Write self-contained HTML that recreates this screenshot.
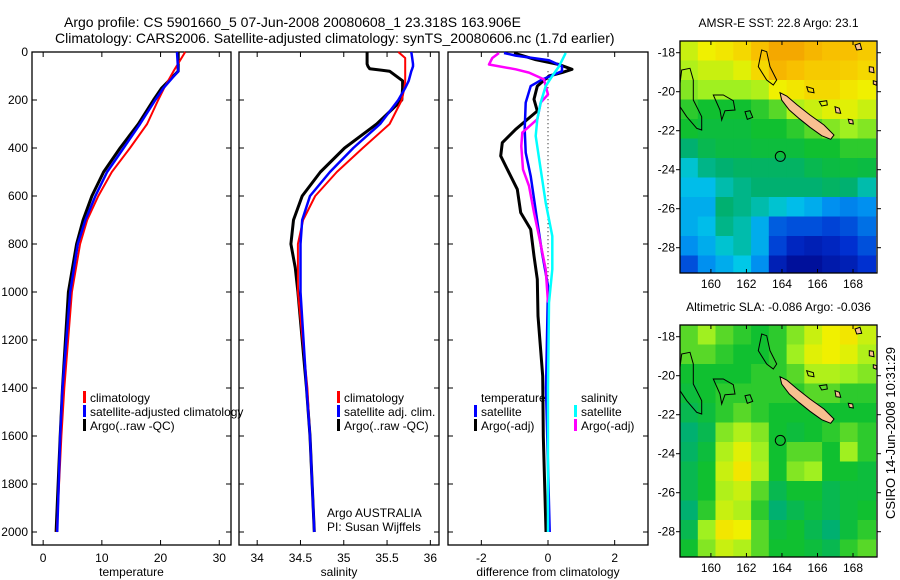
<!DOCTYPE html>
<html><head><meta charset="utf-8"><style>
body{margin:0;background:#fff;}
svg{display:block;font-family:"Liberation Sans",sans-serif;}
</style></head><body>
<svg id="fig" width="900" height="580" viewBox="0 0 900 580" xmlns="http://www.w3.org/2000/svg">
<rect width="900" height="580" fill="#fff"/>
<text x="64" y="27" font-size="14">Argo profile: CS 5901660_5 07-Jun-2008 20080608_1 23.318S 163.906E</text>
<text x="55" y="43" font-size="14">Climatology: CARS2006. Satellite-adjusted climatology: synTS_20080606.nc (1.7d earlier)</text>
<g id="p1"></g>
<g id="p2"></g>
<g id="p3"></g>
<g id="m1"></g>
<g id="m2"></g>
<text transform="translate(895,433) rotate(-90)" font-size="13" text-anchor="middle">CSIRO 14-Jun-2008 10:31:29</text>
</svg>
<script>
// ---- data ----
const tDepth=[0,80,150,200,300,400,500,600,700,800,1000,1400,1600,2000];
const tClim=[24.2,22.2,20.6,19.6,17.7,14.8,11.7,9.4,7.5,6.3,4.9,3.6,3.1,2.3];
const tSat=[22.8,23.0,20.5,19.1,16.5,13.7,10.9,8.9,7.2,5.9,4.6,3.3,2.9,2.4];
const tArgo=[23.0,23.0,20.2,18.8,16.2,13.1,10.3,8.3,6.8,5.7,4.3,3.3,2.9,2.2];
const sDepth=[0,25,50,60,70,80,120,150,200,300,400,500,600,700,800,900,1000,1400,1600,2000];
const sClim=[35.63,35.71,35.71,35.71,35.71,35.71,35.71,35.70,35.67,35.53,35.22,34.92,34.67,34.53,34.47,34.47,34.47,34.58,34.61,34.66];
const sSat=[35.78,35.79,35.80,35.80,35.79,35.78,35.75,35.71,35.63,35.42,35.11,34.84,34.61,34.52,34.50,34.50,34.50,34.57,34.61,34.66];
const sArgo=[35.27,35.27,35.27,35.28,35.30,35.53,35.68,35.68,35.67,35.38,35.01,34.73,34.52,34.42,34.39,34.44,34.47,34.57,34.61,34.66];
const dTSatDepth=[4,15,34,59,80,115,142,211,322,419,517,697,836,975,1400,2000];
const dTSat=[-1.32,-0.97,0.03,0.42,0.42,-0.18,-0.52,-0.67,-0.70,-0.67,-0.52,-0.33,-0.18,0,-0.06,0.05];
const dTArgoDepth=[4,32,52,72,86,100,142,197,246,322,378,433,503,572,669,739,850,947,1100,1350,1600,2000];
const dTArgo=[-1.02,-0.37,0.33,0.72,0.42,0.03,-0.32,-0.42,-0.32,-0.97,-1.37,-1.42,-1.17,-0.92,-0.82,-0.52,-0.42,-0.32,-0.30,-0.16,-0.14,-0.06];
const dSArgoDepth=[4,25,52,72,86,114,142,177,211,280,336,392,489,558,669,767,905,1044];
const dSArgo=[-1.47,-1.67,-1.77,-0.97,-0.57,-0.12,-0.07,0,-0.22,-0.32,-0.77,-0.80,-0.75,-0.57,-0.42,-0.27,-0.07,0];
const dSSatDepth=[4,60,100,142,211,280,350,489,628,767,905,1044,1400,2000];
const dSSat=[0.53,0.33,0.13,-0.07,-0.22,-0.32,-0.37,-0.22,-0.07,0.13,0.13,0.03,0.0,0.0];
const depthTicks=[0,200,400,600,800,1000,1200,1400,1600,1800,2000];
const tTicks=[0,10,20,30];
const sTicks=[34,34.5,35,35.5,36];
const dTicks=[-2,0,2];
const lonTicks=[160,162,164,166,168];
const latTicks=[-18,-20,-22,-24,-26,-28];
const sstGrid=[
[.75,.8,.82,.85,.9,.95,.95,.92,.9,.9,.88],
[.72,.75,.75,.78,.85,.92,.9,.88,.88,.87,.85],
[.68,.7,.7,.7,.72,.8,.82,.85,.85,.82,.8],
[.62,.6,.6,.6,.62,.65,.72,.75,.78,.78,.75],
[.6,.58,.58,.58,.6,.6,.62,.65,.68,.7,.68],
[.5,.55,.57,.57,.58,.58,.58,.6,.6,.62,.62],
[.42,.48,.5,.52,.52,.52,.52,.55,.57,.58,.57],
[.38,.38,.45,.48,.5,.5,.5,.5,.52,.5,.45],
[.35,.35,.5,.48,.45,.42,.38,.35,.3,.28,.3],
[.35,.38,.48,.45,.35,.22,.2,.2,.18,.2,.25],
[.3,.35,.42,.45,.35,.18,.12,.1,.12,.15,.2],
[.2,.3,.35,.4,.3,.1,.05,.05,.08,.1,.15]];
const slaGrid=[
[.65,.7,.65,.62,.6,.62,.68,.75,.8,.82,.75],
[.65,.65,.62,.6,.6,.62,.7,.78,.8,.78,.72],
[.6,.6,.6,.6,.62,.62,.65,.72,.72,.7,.68],
[.58,.6,.62,.62,.62,.62,.62,.65,.65,.62,.62],
[.55,.58,.62,.65,.62,.6,.6,.6,.6,.6,.6],
[.5,.55,.68,.72,.68,.6,.58,.6,.62,.65,.62],
[.52,.58,.72,.78,.7,.6,.65,.65,.6,.7,.62],
[.55,.6,.75,.82,.72,.6,.68,.7,.6,.6,.58],
[.55,.6,.72,.75,.65,.55,.6,.6,.55,.58,.58],
[.5,.62,.75,.72,.62,.5,.55,.58,.55,.58,.6],
[.55,.7,.82,.8,.65,.58,.6,.55,.5,.58,.62],
[.6,.68,.75,.72,.65,.6,.6,.58,.55,.62,.65]];

const NS='http://www.w3.org/2000/svg';
function mk(parent,tag,attrs,txt){const e=document.createElementNS(NS,tag);for(const k in attrs)e.setAttribute(k,attrs[k]);if(txt!==undefined)e.textContent=txt;parent.appendChild(e);return e;}
const Y0=52,Y1=545,yD=d=>52+d*0.24;

function panel(g,x0,x1,xmin,xmax,xt,xtl,title,showY){
  const sx=v=>x0+(v-xmin)/(xmax-xmin)*(x1-x0);
  const r=mk(g,'rect',{x:x0,y:Y0,width:x1-x0,height:Y1-Y0,fill:'none',stroke:'#000','stroke-width':1.3});
  
  xt.forEach((v,i)=>{const x=sx(v);
    mk(g,'line',{x1:x,x2:x,y1:Y0,y2:Y0+5,stroke:'#000'});mk(g,'line',{x1:x,x2:x,y1:Y1,y2:Y1-5,stroke:'#000'});
    const t=mk(g,'text',{x:x,y:562,'font-size':12,'text-anchor':'middle'},xtl[i]);
    });
  depthTicks.forEach(d=>{const y=yD(d);
    mk(g,'line',{x1:x0,x2:x0+5,y1:y,y2:y,stroke:'#000'});mk(g,'line',{x1:x1,x2:x1-5,y1:y,y2:y,stroke:'#000'});
    if(showY){const t=mk(g,'text',{x:28,y:y+4,'font-size':12,'text-anchor':'end'},String(d));
      }});
  const at=mk(g,'text',{x:(x0+x1)/2,y:576,'font-size':12,'text-anchor':'middle'},title);
  
  return sx;
}
function line(g,sx,xs,ds,col,w,name){
  const p=mk(g,'polyline',{points:xs.map((v,i)=>sx(v).toFixed(1)+','+yD(ds[i]).toFixed(1)).join(' '),fill:'none',stroke:col,'stroke-width':w,'stroke-linejoin':'round'});
  
}
function legend(g,x,y,col,txt){
  if(col)mk(g,'rect',{x:x,y:y-11,width:3,height:12,fill:col});
  const t=mk(g,'text',{x:x+7,y:y,'font-size':12},txt);
  
}
const p1=document.getElementById('p1'),p2=document.getElementById('p2'),p3=document.getElementById('p3');
const sx1=panel(p1,32,231,-1.9,32,tTicks,tTicks.map(String),'temperature',true);
line(p1,sx1,tArgo,tDepth,'#000',3,'temp-argo-line');
line(p1,sx1,tClim,tDepth,'#f00',2,'temp-climatology-line');
line(p1,sx1,tSat,tDepth,'#00f',2.5,'temp-satellite-line');
legend(p1,83,402,'#f00','climatology');legend(p1,83,416,'#00f','satellite-adjusted climatology');legend(p1,83,430,'#000','Argo(..raw -QC)');

const sx2=panel(p2,239,439,33.79,36.1,sTicks,['34','34.5','35','35.5','36'],'salinity',false);
line(p2,sx2,sArgo,sDepth,'#000',3,'sal-argo-line');
line(p2,sx2,sClim,sDepth,'#f00',2,'sal-climatology-line');
line(p2,sx2,sSat,sDepth,'#00f',2.5,'sal-satellite-line');
legend(p2,337,402,'#f00','climatology');legend(p2,337,416,'#00f','satellite adj. clim.');legend(p2,337,430,'#000','Argo(..raw -QC)');
legend(p2,320,517,null,'Argo AUSTRALIA');legend(p2,320,531,null,'PI: Susan Wijffels');

const sx3=panel(p3,448,648,-3,3,dTicks,['-2','0','2'],'difference from climatology',false);
mk(p3,'line',{x1:sx3(0),x2:sx3(0),y1:yD(80),y2:yD(1050),stroke:'#000','stroke-dasharray':'1,3'});
line(p3,sx3,dTArgo,dTArgoDepth,'#000',3,'diff-temp-argo-line');
line(p3,sx3,dTSat,dTSatDepth,'#00f',2.5,'diff-temp-satellite-line');
line(p3,sx3,dSArgo,dSArgoDepth,'#f0f',2.5,'diff-sal-argo-line');
line(p3,sx3,dSSat,dSSatDepth,'#0ff',2.5,'diff-sal-satellite-line');
legend(p3,474,402,null,'temperature');legend(p3,474,416,'#00f','satellite');legend(p3,474,430,'#000','Argo(-adj)');
legend(p3,574,402,null,'salinity');legend(p3,574,416,'#0ff','satellite');legend(p3,574,430,'#f0f','Argo(-adj)');

// ---- maps ----
const stops=[[0,[0,0,128]],[.15,[0,48,208]],[.3,[0,144,240]],[.4,[0,200,232]],[.5,[0,176,112]],[.6,[16,192,48]],[.7,[160,240,32]],[.8,[240,240,0]],[.9,[248,192,0]],[1,[240,144,0]]];
function cmap(v){for(let i=1;i<stops.length;i++){if(v<=stops[i][0]){const a=stops[i-1],b=stops[i],f=(v-a[0])/(b[0]-a[0]);return 'rgb('+a[1].map((c,k)=>Math.round(c+(b[1][k]-c)*f)).join(',')+')';}}return 'rgb(240,144,0)';}
const MX0=680,MX1=877,LON0=158.26,LON1=169.35;
const mlon=l=>MX0+(l-LON0)/(LON1-LON0)*(MX1-MX0);
function map(g,top,grid,title,id){
  const bot=top+232;const mlat=la=>top+(-17.4-la)*19.5;
  mk(g,'clipPath',{id:id}).appendChild(document.createElementNS(NS,'rect'));
  const cr=g.querySelector('clipPath rect');cr.setAttribute('x',MX0);cr.setAttribute('y',top);cr.setAttribute('width',MX1-MX0);cr.setAttribute('height',bot-top);
  const cg=mk(g,'g',{'clip-path':'url(#'+id+')'});
  grid.forEach((row,r)=>row.forEach((v,c)=>{
    const x=mlon(158.26+c),y=mlat(-17.4-r);
    const cell=mk(cg,'rect',{x:x.toFixed(1),y:y.toFixed(1),width:18.5,height:20.2,fill:cmap(v)});
    }));
  const o=top-41; // offset relative to top map
  const P=pts=>pts.map(p=>((670+p[0]/3).toFixed(1)+','+(40+p[1]/3+o).toFixed(1))).join(' ');
  const isl=mk(cg,'polygon',{points:P([[330,158],[350,168],[382,195],[420,225],[462,255],[492,285],[482,298],[455,287],[420,262],[388,236],[358,210],[335,180]]),fill:'#f8c090',stroke:'#000','stroke-width':1});
  
  [[[35,90],[60,85],[70,120],[70,180],[95,230],[95,270],[80,265],[50,230],[30,200],[30,130]],
   [[275,30],[290,35],[300,80],[320,120],[310,135],[290,120],[265,80]],
   [[130,165],[160,165],[190,182],[195,210],[165,212],[155,240],[150,210]],
   [[410,140],[430,146],[432,158],[415,155]],[[225,215],[240,212],[248,232],[232,238]],
   [[448,185],[470,182],[472,195],[455,198]]].forEach(s=>{
    const r=mk(cg,'polygon',{points:P(s),fill:'none',stroke:'#000','stroke-width':1});
    });
  [[[555,15],[570,10],[575,28],[560,30]],[[598,80],[610,82],[612,98],[598,95]],[[610,122],[620,125],[620,136],[610,132]],[[495,200],[508,205],[512,220],[498,218]],[[535,238],[548,240],[550,252],[538,250]]].forEach(s=>{
    const r=mk(cg,'polygon',{points:P(s),fill:'#f8c090',stroke:'#000','stroke-width':1});
    });
  const c=mk(g,'circle',{cx:mlon(163.906),cy:mlat(-23.318),r:5,fill:'none',stroke:'#000','stroke-width':1});
  
  const fr=mk(g,'rect',{x:MX0,y:top,width:MX1-MX0,height:bot-top,fill:'none',stroke:'#000','stroke-width':1.3});
  
  lonTicks.forEach(l=>{const x=mlon(l);mk(g,'line',{x1:x,x2:x,y1:top,y2:top+4,stroke:'#000'});mk(g,'line',{x1:x,x2:x,y1:bot,y2:bot-4,stroke:'#000'});
    const t=mk(g,'text',{x:x,y:bot+15,'font-size':12,'text-anchor':'middle'},String(l));});
  latTicks.forEach(la=>{const y=mlat(la);mk(g,'line',{x1:MX0-4,x2:MX0,y1:y,y2:y,stroke:'#000'});mk(g,'line',{x1:MX1,x2:MX1+4,y1:y,y2:y,stroke:'#000'});
    const t=mk(g,'text',{x:MX0-5,y:y+4,'font-size':12,'text-anchor':'end'},String(la));});
  const tt=mk(g,'text',{x:(MX0+MX1)/2,y:top-14,'font-size':12,'text-anchor':'middle'},title);
  
}
map(document.getElementById('m1'),41,sstGrid,'AMSR-E SST: 22.8  Argo: 23.1','clip1');
map(document.getElementById('m2'),325,slaGrid,'Altimetric SLA: -0.086  Argo: -0.036','clip2');
</script>
</body></html>
